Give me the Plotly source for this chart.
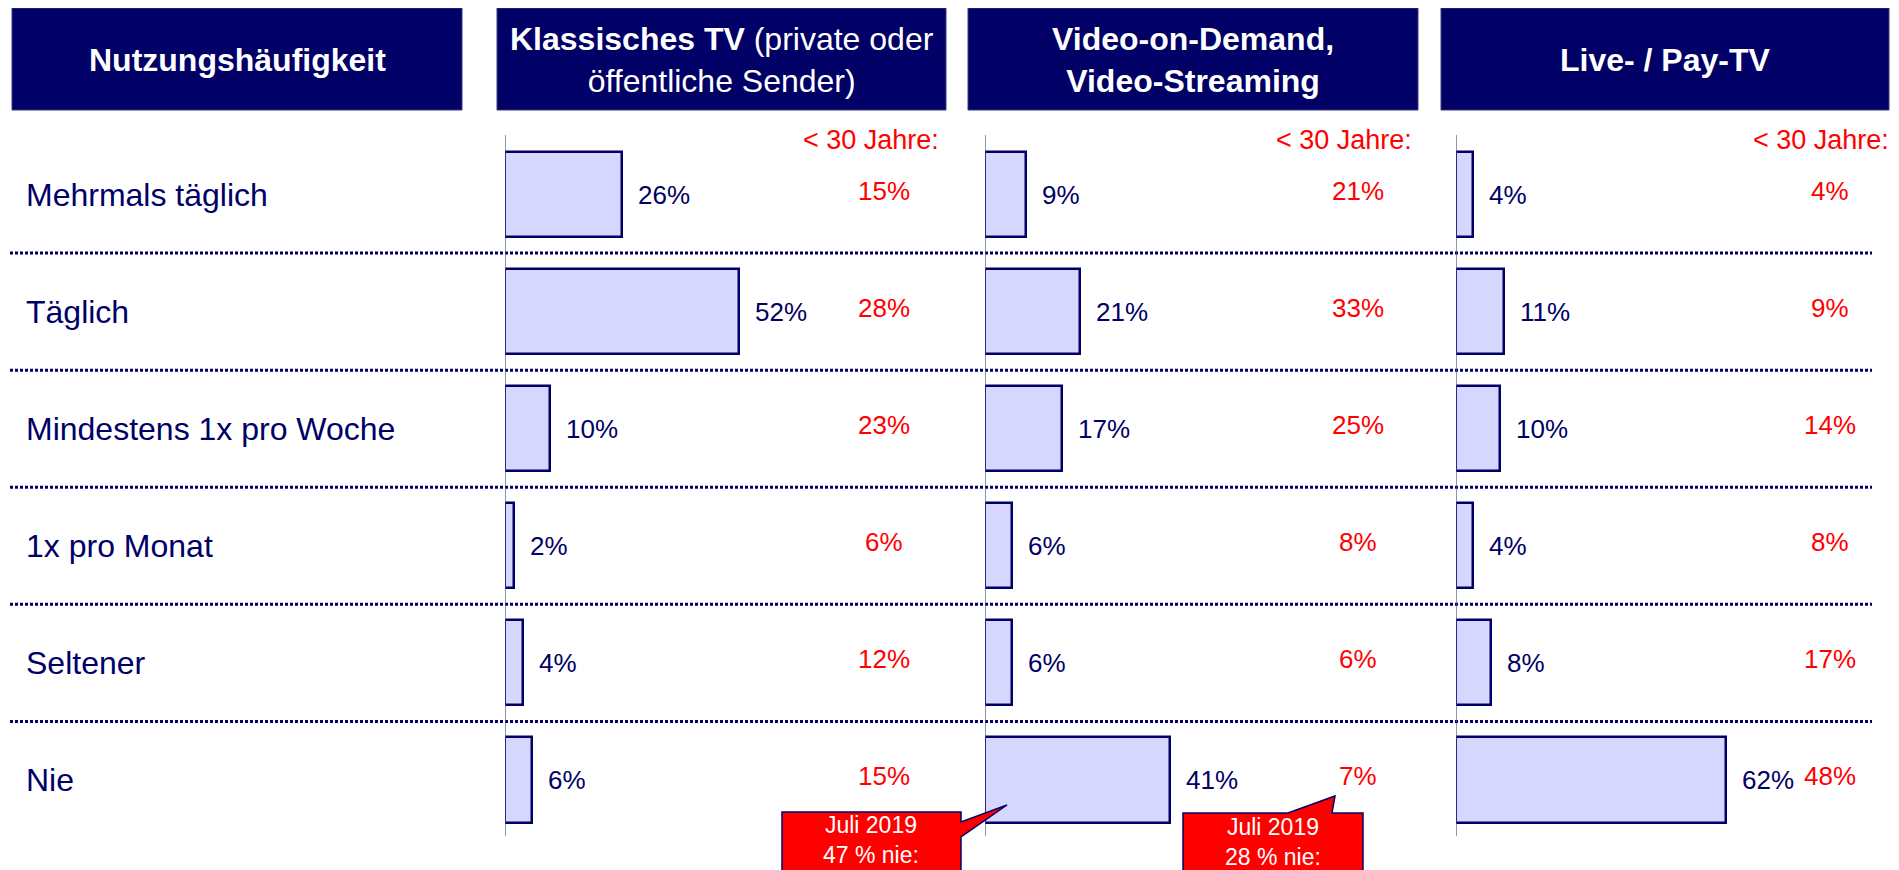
import plotly.graph_objects as go

# Nutzungshäufigkeit (Zeilen)
categories = ["Mehrmals täglich", "Täglich", "Mindestens 1x pro Woche",
              "1x pro Monat", "Seltener", "Nie"]

# Gesamt (Balken)
klassisch = [26, 52, 10, 2, 4, 6]
vod = [9, 21, 17, 6, 6, 41]
paytv = [4, 11, 10, 4, 8, 62]

# < 30 Jahre (rote Werte)
klassisch_u30 = [15, 28, 23, 6, 12, 15]
vod_u30 = [21, 33, 25, 8, 6, 7]
paytv_u30 = [4, 9, 14, 8, 17, 48]

headers = ["<b>Nutzungshäufigkeit</b>",
           "<b>Klassisches TV</b> (private oder<br>öffentliche Sender)",
           "<b>Video-on-Demand,<br>Video-Streaming</b>",
           "<b>Live- / Pay-TV</b>"]
u30_label = "< 30 Jahre:"
callout_texts = ["Juli 2019<br>47 % nie:", "Juli 2019<br>28 % nie:"]

W, H = 1899, 870
OFF = 8  # the page body has an 8px margin, so shift everything back
NAVY = "#000066"
RED = "#FF0000"
BAR = "#D6D6FF"
FONT = "Arial, Liberation Sans, sans-serif"


def px(x):
    return (x - OFF) / W


def py(y):
    return 1 - (y - OFF) / H


# column setup: axis, domain in px, range max, centre of red values, right edge of "< 30 Jahre:"
columns = [
    dict(ax="x", data=klassisch, u30=klassisch_u30, dom=(505, 955), rmax=100, ux=884, lx=941),
    dict(ax="x2", data=vod, u30=vod_u30, dom=(985, 1435), rmax=100, ux=1358, lx=1414),
    dict(ax="x3", data=paytv, u30=paytv_u30, dom=(1456, 1899), rmax=101.8, ux=1830, lx=1891),
]

fig = go.Figure()
annotations = []
shapes = []

for col in columns:
    fig.add_trace(go.Bar(
        x=col["data"], y=categories, orientation="h",
        xaxis=col["ax"], yaxis="y", width=0.726,
        marker=dict(color=BAR, line=dict(color=NAVY, width=2.5)),
        hoverinfo="x+y", showlegend=False,
    ))
    # value labels next to bars
    for cat, v in zip(categories, col["data"]):
        annotations.append(dict(
            x=v, y=cat, xref=col["ax"], yref="y", text=f"{v}%",
            xanchor="left", yanchor="middle", xshift=14, yshift=0, showarrow=False,
            font=dict(size=26, color=NAVY, family=FONT),
        ))
    # red values for < 30 years
    for cat, v in zip(categories, col["u30"]):
        annotations.append(dict(
            x=px(col["ux"]), y=cat, xref="paper", yref="y", text=f"{v}%",
            xanchor="center", yanchor="middle", yshift=4, showarrow=False,
            font=dict(size=26, color=RED, family=FONT),
        ))
    annotations.append(dict(
        x=px(col["lx"]), y=py(140), xref="paper", yref="paper", text=u30_label,
        xanchor="right", yanchor="middle", showarrow=False,
        font=dict(size=27, color=RED, family=FONT),
    ))
    # vertical axis line
    shapes.append(dict(
        type="line", xref=col["ax"], yref="paper", x0=0, x1=0,
        y0=py(135), y1=py(836), line=dict(color="#4a4a8c", width=1.2),
    ))

# row labels
for cat in categories:
    annotations.append(dict(
        x=px(24), y=cat, xref="paper", yref="y", text=cat,
        xanchor="left", yanchor="middle", showarrow=False,
        font=dict(size=32, color=NAVY, family=FONT),
    ))

# dotted separators between rows
for i in range(len(categories) - 1):
    shapes.append(dict(
        type="line", xref="paper", yref="y", x0=px(10), x1=px(1872),
        y0=i + 0.5, y1=i + 0.5, layer="below",
        line=dict(color=NAVY, width=3, dash="3px,2px"),
    ))

# header boxes
header_boxes = [(12, 462), (497, 946), (968, 1418), (1441, 1889)]
for (x0, x1), text in zip(header_boxes, headers):
    shapes.append(dict(
        type="rect", xref="paper", yref="paper",
        x0=px(x0), x1=px(x1), y0=py(110), y1=py(8),
        fillcolor=NAVY, line=dict(color="#3a3a80", width=1),
    ))
    annotations.append(dict(
        x=px((x0 + x1) / 2), y=py(60), xref="paper", yref="paper", text=text,
        xanchor="center", yanchor="middle", showarrow=False,
        font=dict(size=32, color="white", family=FONT),
    ))


# red callouts
def path(points):
    return "M " + " L ".join(f"{px(a):.5f},{py(b):.5f}" for a, b in points) + " Z"


callout_shapes = [
    [(782, 812), (961, 812), (961, 822), (1007, 805), (961, 837), (961, 885), (782, 885)],
    [(1183, 813), (1288, 813), (1335, 796), (1332, 813), (1363, 813), (1363, 885), (1183, 885)],
]
callout_centres = [(871, 840), (1273, 842)]
for pts, (cx, cy), text in zip(callout_shapes, callout_centres, callout_texts):
    shapes.append(dict(
        type="path", xref="paper", yref="paper", path=path(pts),
        fillcolor=RED, line=dict(color=NAVY, width=1.5),
    ))
    annotations.append(dict(
        x=px(cx), y=py(cy), xref="paper", yref="paper", text=text,
        xanchor="center", yanchor="middle", showarrow=False,
        font=dict(size=23, color="white", family=FONT),
    ))

layout_axes = {}
for col in columns:
    name = "xaxis" if col["ax"] == "x" else "xaxis" + col["ax"][1:]
    layout_axes[name] = dict(
        domain=[px(col["dom"][0]), min(px(col["dom"][1]), 1)], range=[0, col["rmax"]],
        visible=False, anchor="y", fixedrange=True,
    )

row_px = 117.1
top_px = 194.5 - OFF
fig.update_layout(
    width=W, height=H,
    margin=dict(l=0, r=0, t=0, b=0),
    paper_bgcolor="white", plot_bgcolor="white",
    yaxis=dict(type="category", categoryorder="array", categoryarray=categories,
               range=[(H - top_px) / row_px, -top_px / row_px],
               domain=[0, 1], visible=False, fixedrange=True),
    shapes=shapes, annotations=annotations,
    bargap=0, showlegend=False,
    **layout_axes,
)

fig.write_html("out.html")
